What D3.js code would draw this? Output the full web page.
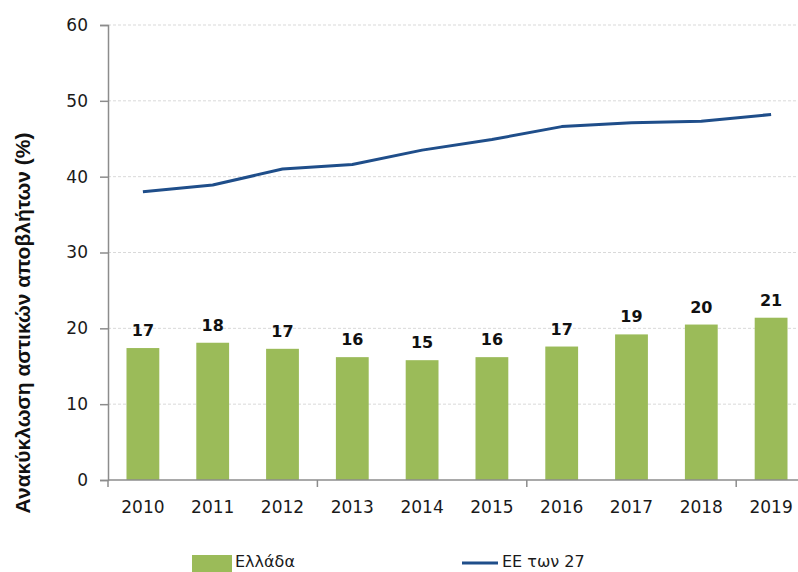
<!DOCTYPE html>
<html>
<head>
<meta charset="utf-8">
<script src="https://cdn.jsdelivr.net/npm/d3@7"></script>
<style>
  body { margin: 0; background: #fff; }
  svg { display: block; font-family: 'DejaVu Sans', sans-serif; }
</style>
</head>
<body>
<svg width="798" height="572"></svg>
<script>
const years = ['2010', '2011', '2012', '2013', '2014', '2015', '2016', '2017', '2018', '2019']
const greece = [17.4, 18.1, 17.3, 16.2, 15.8, 16.2, 17.6, 19.2, 20.5, 21.4]
const greeceLabels = ['17', '18', '17', '16', '15', '16', '17', '19', '20', '21']
const eu27 = [38.0, 38.9, 41.0, 41.6, 43.5, 44.9, 46.6, 47.1, 47.3, 48.2]
const yTicks = [0, 10, 20, 30, 40, 50, 60]

const svg = d3.select('svg')
const plotLeft = 108
const plotRight = 806
const plotTop = 25
const plotBottom = 480

const x = d3.scaleBand().domain(years).range([plotLeft, plotRight]).paddingInner(0.53).paddingOuter(0.265)
const y = d3.scaleLinear().domain([0, 60]).range([plotBottom, plotTop])

// horizontal gridlines
svg.append('g')
  .selectAll('line')
  .data(yTicks.filter((d) => d > 0))
  .join('line')
  .attr('x1', plotLeft)
  .attr('x2', 798)
  .attr('y1', (d) => y(d))
  .attr('y2', (d) => y(d))
  .attr('stroke', '#d9d9d9')
  .attr('stroke-dasharray', '3,2')

// y axis
const yAxis = svg.append('g')
  .attr('transform', `translate(${plotLeft},0)`)
  .call(d3.axisLeft(y).tickValues(yTicks).tickSize(8).tickPadding(12))
yAxis.select('.domain').attr('stroke', '#8c8c8c').attr('stroke-width', 1.5)
yAxis.selectAll('.tick line').attr('stroke', '#8c8c8c').attr('stroke-width', 1.5)
yAxis.selectAll('.tick text').attr('font-size', 17).attr('fill', '#1a1a1a').attr('font-family', 'DejaVu Sans')

// bars
svg.append('g')
  .selectAll('rect')
  .data(greece)
  .join('rect')
  .attr('x', (d, i) => x(years[i]))
  .attr('width', x.bandwidth())
  .attr('y', (d) => y(d))
  .attr('height', (d) => y(0) - y(d))
  .attr('fill', '#9bbb59')

// bar value labels
svg.append('g')
  .selectAll('text')
  .data(greece)
  .join('text')
  .attr('x', (d, i) => x(years[i]) + x.bandwidth() / 2)
  .attr('y', (d) => y(d) - 12)
  .attr('text-anchor', 'middle')
  .attr('font-size', 16)
  .attr('font-weight', 'bold')
  .attr('fill', '#111')
  .text((d, i) => greeceLabels[i])

// x axis: line and ticks every third category
const step = x.step()
svg.append('line')
  .attr('x1', plotLeft)
  .attr('x2', 798)
  .attr('y1', y(0))
  .attr('y2', y(0))
  .attr('stroke', '#8c8c8c')
  .attr('stroke-width', 1.5)
svg.append('g')
  .selectAll('line')
  .data([0, 3, 6, 9])
  .join('line')
  .attr('x1', (d) => plotLeft + d * step)
  .attr('x2', (d) => plotLeft + d * step)
  .attr('y1', y(0))
  .attr('y2', y(0) + 7)
  .attr('stroke', '#8c8c8c')
  .attr('stroke-width', 1.5)
svg.append('g')
  .selectAll('text')
  .data(years)
  .join('text')
  .attr('x', (d) => x(d) + x.bandwidth() / 2)
  .attr('y', 513)
  .attr('text-anchor', 'middle')
  .attr('font-size', 17)
  .attr('fill', '#1a1a1a')
  .text((d) => d)

// EU-27 line
const line = d3.line()
  .x((d, i) => x(years[i]) + x.bandwidth() / 2)
  .y((d) => y(d))
svg.append('path')
  .datum(eu27)
  .attr('d', line)
  .attr('fill', 'none')
  .attr('stroke', '#1f4e8a')
  .attr('stroke-width', 3)
  .attr('stroke-linejoin', 'round')

// y axis title
svg.append('text')
  .attr('transform', 'translate(30,323) rotate(-90)')
  .attr('text-anchor', 'middle')
  .attr('font-family', 'Liberation Sans, Arial, sans-serif')
  .attr('font-size', 21)
  .attr('font-weight', 'bold')
  .attr('fill', '#111')
  .text('Ανακύκλωση αστικών αποβλήτων (%)')

// legend
const legend = svg.append('g')
legend.append('rect')
  .attr('x', 192)
  .attr('y', 555)
  .attr('width', 40)
  .attr('height', 17)
  .attr('fill', '#9bbb59')
legend.append('text')
  .attr('x', 235)
  .attr('y', 567)
  .attr('font-size', 16)
  .attr('fill', '#1a1a1a')
  .text('Ελλάδα')
legend.append('line')
  .attr('x1', 462)
  .attr('x2', 498)
  .attr('y1', 563)
  .attr('y2', 563)
  .attr('stroke', '#1f4e8a')
  .attr('stroke-width', 3)
legend.append('text')
  .attr('x', 502)
  .attr('y', 567)
  .attr('font-size', 16)
  .attr('fill', '#1a1a1a')
  .text('ΕΕ των 27')
</script>
</body>
</html>
